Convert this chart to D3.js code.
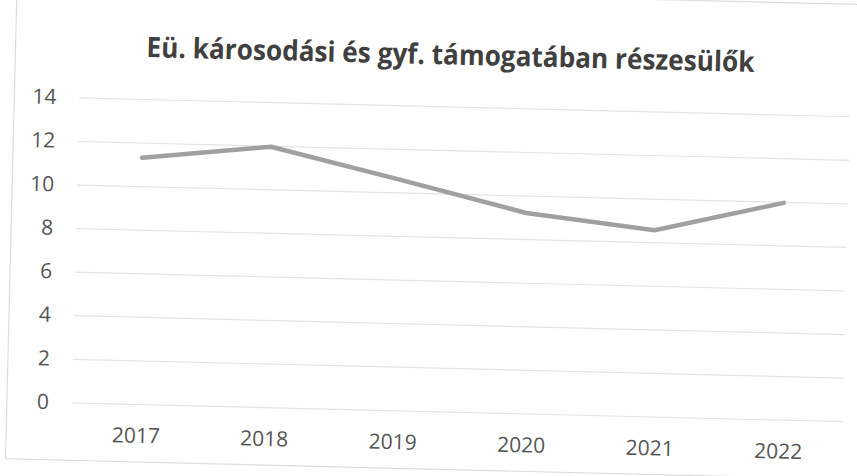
<!DOCTYPE html>
<html>
<head>
    <meta charset="utf-8">
    <!-- Load d3.js -->
    <script src="https://d3js.org/d3.v7.min.js"></script>
    <style>
        body { margin: 0; background: #fff; }
    </style>
</head>

<body>

    <!-- Create a div where the graph will take place -->
    <div id="my_dataviz"></div>

    <script>

        // data
        var years = ["2017", "2018", "2019", "2020", "2021", "2022"];
        var values = [11.3, 11.95, 10.6, 9.2, 8.55, 9.95];
        var yTicks = [0, 2, 4, 6, 8, 10, 12, 14];
        var title = "Eü. károsodási és gyf. támogatában részesülők";

        var W = 857, H = 476;
        // plot area (note: "top" is taken by window.top, so use other names)
        var plotLeft = 76, plotRight = 847, plotTop = 106, plotBottom = 411;

        // the original is a slightly tilted scan, so the whole chart is turned a bit
        var svg = d3.select("#my_dataviz")
            .append("svg")
            .attr("width", W)
            .attr("height", H);

        svg.append("rect")
            .attr("width", W)
            .attr("height", H)
            .attr("fill", "#fff");

        var g = svg.append("g")
            .attr("transform", "rotate(1.4," + W / 2 + "," + H / 2 + ")");

        // chart border
        g.append("rect")
            .attr("x", 11)
            .attr("y", -6)
            .attr("width", 900)
            .attr("height", 475)
            .attr("fill", "none")
            .attr("stroke", "#dcdcdc")
            .attr("stroke-width", 1.2);

        // scales
        var x = d3.scalePoint()
            .domain(years)
            .range([plotLeft, plotRight])
            .padding(0.5);

        var y = d3.scaleLinear()
            .domain([0, 14])
            .range([plotBottom, plotTop]);

        // Y axis with gridlines
        var yAxis = g.append("g")
            .attr("transform", "translate(" + plotLeft + ",0)")
            .call(d3.axisLeft(y)
                .tickValues(yTicks)
                .tickSize(-(plotRight - plotLeft))
                .tickPadding(23));
        yAxis.select(".domain").remove();
        yAxis.selectAll(".tick line")
            .attr("stroke", "#e4e4e4")
            .attr("stroke-width", 1.2);
        yAxis.selectAll(".tick text")
            .attr("fill", "#555")
            .style("font-family", "'Open Sans', sans-serif")
            .style("font-size", "21px");

        // X axis labels
        var xAxis = g.append("g")
            .attr("transform", "translate(0," + plotBottom + ")")
            .call(d3.axisBottom(x)
                .tickSize(0)
                .tickPadding(24));
        xAxis.select(".domain").remove();
        xAxis.selectAll(".tick text")
            .attr("fill", "#555")
            .style("font-family", "'Open Sans', sans-serif")
            .style("font-size", "21px");

        // the line
        g.append("path")
            .datum(values)
            .attr("fill", "none")
            .attr("stroke", "#a0a0a0")
            .attr("stroke-width", 4.5)
            .attr("stroke-linecap", "round")
            .attr("stroke-linejoin", "round")
            .attr("d", d3.line()
                .x(function (d, i) { return x(years[i]) })
                .y(function (d) { return y(d) })
            );

        // title
        g.append("text")
            .attr("x", 446)
            .attr("y", 64)
            .attr("text-anchor", "middle")
            .attr("textLength", 608)
            .attr("lengthAdjust", "spacingAndGlyphs")
            .attr("fill", "#404040")
            .style("font-family", "'Open Sans', sans-serif")
            .style("font-weight", "bold")
            .style("font-size", "28px")
            .text(title);

    </script>
</body>

</html>
